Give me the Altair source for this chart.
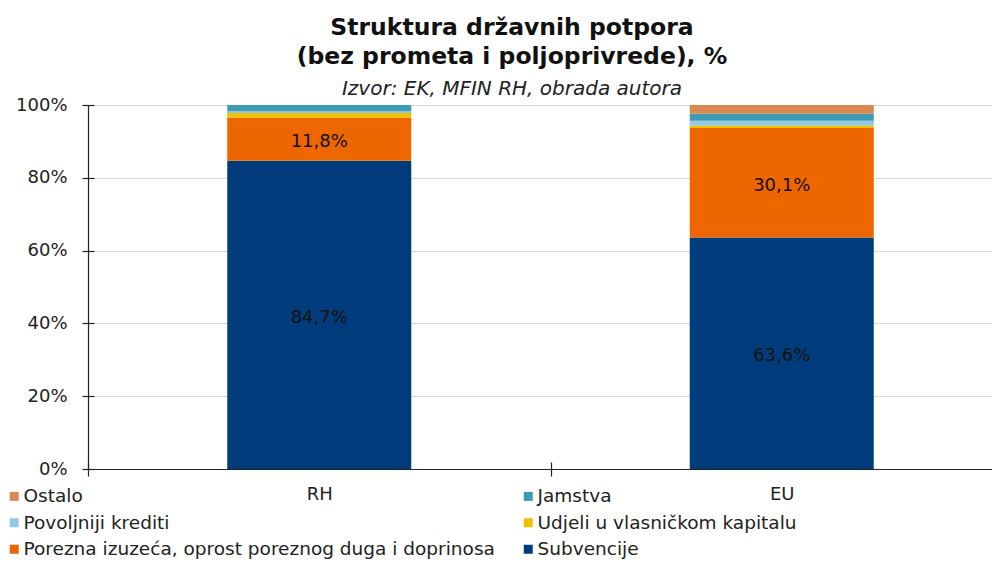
import altair as alt
import pandas as pd

categories = ["RH", "EU"]
series = [
    "Subvencije",
    "Porezna izuzeća, oprost poreznog duga i doprinosa",
    "Udjeli u vlasničkom kapitalu",
    "Povoljniji krediti",
    "Jamstva",
    "Ostalo",
]
rh_values = [84.7, 11.8, 1.3, 0.5, 1.7, 0.0]
eu_values = [63.6, 30.1, 0.7, 1.3, 1.9, 2.4]
series_colors = ["#003C7C", "#EE6600", "#F0C000", "#92C9E6", "#3E9BB3", "#D98A50"]
labelled_series = ["Subvencije", "Porezna izuzeća, oprost poreznog duga i doprinosa"]
legend_order = [
    "Ostalo",
    "Jamstva",
    "Povoljniji krediti",
    "Udjeli u vlasničkom kapitalu",
    "Porezna izuzeća, oprost poreznog duga i doprinosa",
    "Subvencije",
]
y_ticks = [0, 20, 40, 60, 80, 100]

rows = []
for cat, vals in zip(categories, [rh_values, eu_values]):
    for i, (s, v) in enumerate(zip(series, vals)):
        lab = (f"{v:.1f}".replace(".", ",") + "%") if s in labelled_series else ""
        rows.append({"kategorija": cat, "vrsta": s, "vrijednost": v, "red": i, "oznaka": lab})
df = pd.DataFrame(rows)

legend_colors = [series_colors[series.index(s)] for s in legend_order]

FONT = "DejaVu Sans"
DARK = "#222222"

x_scale = alt.Scale(domain=categories, range=[0, 925], paddingInner=0, paddingOuter=0)
y_scale = alt.Scale(domain=[0, 100])

base = alt.Chart(df).transform_stack(
    stack="vrijednost",
    groupby=["kategorija"],
    as_=["y0", "y1"],
    sort=[alt.SortField("red", order="ascending")],
).transform_calculate(ymid="(datum.y0 + datum.y1) / 2")

bars = base.mark_bar(size=184).encode(
    x=alt.X(
        "kategorija:N",
        scale=x_scale,
        sort=categories,
        axis=alt.Axis(title=None, orient="bottom", labels=False, ticks=False,
                      domain=True, domainColor=DARK, domainWidth=1.2, grid=False),
    ),
    y=alt.Y(
        "y0:Q",
        scale=y_scale,
        axis=alt.Axis(title=None, orient="left", values=y_ticks, labels=False, ticks=False,
                      domain=True, domainColor=DARK, domainWidth=1.2,
                      grid=True, gridColor="#d9d9d9", gridWidth=1.2),
    ),
    y2="y1:Q",
    color=alt.Color(
        "vrsta:N",
        scale=alt.Scale(domain=legend_order, range=legend_colors),
        legend=alt.Legend(
            title=None, orient="none", legendX=-83, legendY=382, columns=2,
            direction="horizontal",
            symbolType="square", symbolSize=81, symbolStrokeWidth=0,
            labelFont=FONT, labelFontSize=18.5, labelColor=DARK, labelOffset=0,
            labelLimit=700, rowPadding=7.5, columnPadding=24, padding=0,
        ),
    ),
)

text = base.transform_filter("datum.oznaka != ''").mark_text(
    font=FONT, fontSize=18, color="#111111", dy=3
).encode(
    x=alt.X(
        "kategorija:N",
        scale=x_scale,
        sort=categories,
        axis=alt.Axis(title=None, orient="bottom", tickBand="extent", ticks=True, tickSize=14,
                      tickColor=DARK, tickWidth=1.2, offset=-7, domain=False, grid=False,
                      labels=True, labelAngle=0, labelFont=FONT, labelFontSize=18,
                      labelColor=DARK, labelPadding=9),
    ),
    y=alt.Y(
        "ymid:Q",
        scale=y_scale,
        axis=alt.Axis(title=None, orient="left", values=y_ticks, ticks=True, tickSize=12,
                      tickColor=DARK, tickWidth=1.2, offset=-6, domain=False, grid=False,
                      labelExpr="datum.value + '%'", labelFont=FONT, labelFontSize=18,
                      labelColor=DARK, labelPadding=15),
    ),
    text="oznaka:N",
)

chart = alt.layer(bars, text).resolve_axis(x="independent", y="independent").properties(
    width=904,
    height=364,
    autosize=alt.AutoSizeParams(type="none"),
    padding={"left": 80, "top": 97, "right": 0, "bottom": 92},
    title=alt.TitleParams(
        text=["Struktura državnih potpora", "(bez prometa i poljoprivrede), %"],
        subtitle="Izvor: EK, MFIN RH, obrada autora",
        font=FONT, fontSize=23.5, fontWeight="bold", color="#111111", lineHeight=29,
        subtitleFont=FONT, subtitleFontSize=20, subtitleFontStyle="italic",
        subtitleColor=DARK, subtitlePadding=11,
        anchor="middle", frame="group", dx=-28, offset=-3,
    ),
).configure_view(stroke=None).configure(font=FONT)

chart.save("out.html", embed_options={"renderer": "svg", "actions": False})
